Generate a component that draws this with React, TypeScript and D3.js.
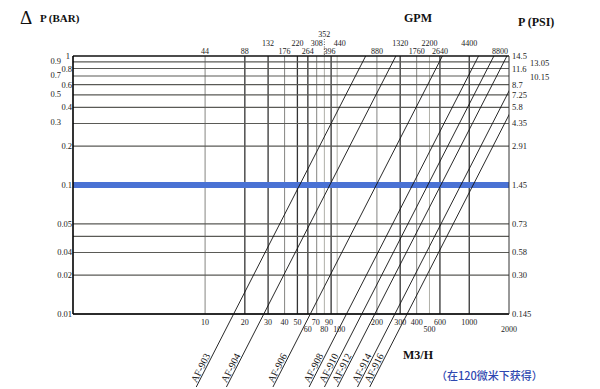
import { useEffect, useRef } from "react";
import * as d3 from "d3";

// flow grid (M3/H) and its GPM equivalents on top
const flowGrid = [10, 20, 30, 40, 50, 60, 70, 80, 90, 100, 200, 300, 400, 500, 600, 1000];
const flowLabelValues = [10, 20, 30, 40, 50, 60, 70, 80, 90, 100, 200, 300, 400, 500, 600, 1000, 2000];
const flowLabels = ["10", "20", "30", "40", "50", "60", "70", "80", "90", "100", "200", "300", "400", "500", "600", "1000", "2000"];
const gpmLabels = ["44", "88", "132", "176", "220", "264", "308", "352", "396", "440", "880", "1320", "1760", "2200", "2640", "4400", "8800"];

// pressure drop grid (BAR) and labels on both sides
const barGrid = [1, 0.9, 0.8, 0.7, 0.6, 0.5, 0.4, 0.3, 0.2, 0.1, 0.05, 0.04, 0.03, 0.02, 0.01];
const barLabelValues = [1, 0.9, 0.8, 0.7, 0.6, 0.5, 0.4, 0.3, 0.2, 0.1, 0.05, 0.03, 0.02, 0.01];
const barLabels = ["1", "0.9", "0.8", "0.7", "0.6", "0.5", "0.4", "0.3", "0.2", "0.1", "0.05", "0.04", "0.02", "0.01"];
const psiLabels = ["14.5", "13.05", "11.6", "10.15", "8.7", "7.25", "5.8", "4.35", "2.91", "1.45", "0.73", "0.58", "0.30", "0.145"];

// filter models: flow (M3/H) at 0.1 bar, drop grows with flow squared
const filterModels = ["AF-903", "AF-904", "AF-906", "AF-908", "AF-910", "AF-912", "AF-914", "AF-916"];
const flowAt01Bar = [52, 88, 198, 372, 486, 610, 865, 1070];

const highlightBar = 0.1;

export default function App() {
    const svgRef = useRef<SVGSVGElement>(null);

    useEffect(() => {
        const width = 600;
        const height = 389;
        const margin = { top: 56, right: 91, bottom: 75, left: 73 };
        const font = "'Liberation Serif', 'DejaVu Serif', serif";

        const svg = d3.select(svgRef.current)
            .attr("width", width)
            .attr("height", height)
            .style("background", "#ffffff")
            .style("position", "absolute")
            .style("left", "0px")
            .style("top", "0px");

        svg.selectAll("*").remove();

        const x = d3.scaleLog().domain([1, 2000]).range([margin.left, width - margin.right]);
        const y = d3.scaleLog().domain([0.01, 1]).range([height - margin.bottom, margin.top]);

        const left = margin.left;
        const right = width - margin.right;
        const top = margin.top;
        const bottom = height - margin.bottom;

        // vertical grid
        const dark = new Set([20, 30, 50, 60, 90, 300, 600, 1000]);
        const light = new Set([100, 500, 80]);
        svg.append("g")
            .selectAll("line")
            .data(flowGrid)
            .join("line")
            .attr("x1", d => x(d)).attr("x2", d => x(d))
            .attr("y1", top).attr("y2", bottom)
            .attr("stroke", d => dark.has(d) ? "#333" : light.has(d) ? "#b0b0a8" : "#858582")
            .attr("stroke-width", d => dark.has(d) ? 1.3 : 1);

        // horizontal grid
        svg.append("g")
            .selectAll("line")
            .data(barGrid)
            .join("line")
            .attr("x1", left).attr("x2", right)
            .attr("y1", d => y(d)).attr("y2", d => y(d))
            .attr("stroke", d => d === 1 ? "#111" : "#5a5a56")
            .attr("stroke-width", d => d === 1 ? 1.4 : 1.1);

        // highlighted 0.1 bar band
        svg.append("line")
            .attr("x1", left).attr("x2", right)
            .attr("y1", y(highlightBar)).attr("y2", y(highlightBar))
            .attr("stroke", "#4a72d4")
            .attr("stroke-width", 6);

        // axes frame
        svg.append("line").attr("x1", left).attr("x2", left).attr("y1", top).attr("y2", bottom)
            .attr("stroke", "#000").attr("stroke-width", 1.6);
        svg.append("line").attr("x1", left).attr("x2", right).attr("y1", bottom).attr("y2", bottom)
            .attr("stroke", "#000").attr("stroke-width", 1.6);
        svg.append("line").attr("x1", right).attr("x2", right).attr("y1", top).attr("y2", bottom)
            .attr("stroke", "#333").attr("stroke-width", 1);

        // filter lines
        svg.append("clipPath").attr("id", "clipCurves")
            .append("rect").attr("x", 0).attr("y", top).attr("width", right).attr("height", height - top);

        const dpLow = y.invert(height - 2);
        const flowAt = (q01: number, dp: number) => q01 * Math.sqrt(dp / 0.1);

        const curves = svg.append("g").attr("clip-path", "url(#clipCurves)");
        filterModels.forEach((m, i) => {
            const q01 = flowAt01Bar[i];
            const pts: [number, number][] = [dpLow, 1.2].map(dp => [x(flowAt(q01, dp)), y(dp)]);
            curves.append("path")
                .attr("d", d3.line()(pts))
                .attr("fill", "none")
                .attr("stroke", "#111")
                .attr("stroke-width", 0.9);
        });

        // model labels along lines
        filterModels.forEach((m, i) => {
            const q01 = flowAt01Bar[i];
            const dp0 = y.invert(height - 5);
            const dp1 = 0.1;
            const x0 = x(flowAt(q01, dp0)), y0 = y(dp0);
            const x1 = x(flowAt(q01, dp1)), y1 = y(dp1);
            const angle = Math.atan2(y1 - y0, x1 - x0) * 180 / Math.PI;
            svg.append("text")
                .attr("transform", `translate(${x0},${y0}) rotate(${angle})`)
                .attr("dy", -1.5)
                .attr("font-family", font)
                .attr("font-size", 10)
                .attr("fill", "#111")
                .text(m);
        });

        // bottom flow labels (M3/H)
        const lowRow = new Set([60, 80, 100, 500, 2000]);
        const nudge: Record<number, number> = { 90: -2, 100: 2, 70: -1 };
        svg.append("g")
            .selectAll("text")
            .data(flowLabelValues)
            .join("text")
            .attr("x", d => x(d) + (nudge[d] || 0))
            .attr("y", d => lowRow.has(d) ? bottom + 18 : bottom + 11)
            .attr("text-anchor", "middle")
            .attr("font-family", font)
            .attr("font-size", 8)
            .attr("fill", "#222")
            .text((_, i) => flowLabels[i]);

        // top GPM labels
        const upperRow = new Set([30, 50, 70, 100, 300, 500, 1000]);
        const topNudge: Record<number, number> = { 90: -1.5, 100: 2.5 };
        svg.append("g")
            .selectAll("text")
            .data(flowLabelValues)
            .join("text")
            .attr("x", d => d === 2000 ? x(d) - 1 : x(d) + (topNudge[d] || 0))
            .attr("y", d => d === 80 ? 37 : upperRow.has(d) ? 46 : 54)
            .attr("text-anchor", d => d === 2000 ? "end" : "middle")
            .attr("font-family", font)
            .attr("font-size", 8)
            .attr("fill", "#222")
            .text((_, i) => gpmLabels[i]);

        svg.append("line")
            .attr("x1", x(80)).attr("x2", x(80))
            .attr("y1", 39).attr("y2", top)
            .attr("stroke", "#333")
            .attr("stroke-width", 0.8)
            .attr("stroke-dasharray", "1,1.5");

        // left BAR labels
        const shiftedLeft = new Set([0.9, 0.7, 0.5, 0.3]);
        svg.append("g")
            .selectAll("text")
            .data(barLabelValues)
            .join("text")
            .attr("x", d => shiftedLeft.has(d) ? left - 12 : d === 1 ? left - 3 : left - 1)
            .attr("y", d => y(d) + (shiftedLeft.has(d) ? 2 : 3))
            .attr("text-anchor", "end")
            .attr("font-family", font)
            .attr("font-size", 8.5)
            .attr("fill", "#222")
            .text((_, i) => barLabels[i]);

        // right PSI labels
        const shiftedRight = new Set([0.9, 0.7]);
        svg.append("g")
            .selectAll("text")
            .data(barLabelValues)
            .join("text")
            .attr("x", d => shiftedRight.has(d) ? right + 21 : right + 3)
            .attr("y", d => y(d) + (shiftedRight.has(d) ? 4 : 3))
            .attr("font-family", font)
            .attr("font-size", 8.5)
            .attr("fill", "#222")
            .text((_, i) => psiLabels[i]);

        // titles
        svg.append("text").attr("x", 20).attr("y", 24)
            .attr("font-family", font).attr("font-size", 19).attr("fill", "#111").text("Δ");
        svg.append("text").attr("x", 40).attr("y", 22)
            .attr("font-family", font).attr("font-size", 11).attr("font-weight", "bold").attr("fill", "#111")
            .text("P (BAR)");
        svg.append("text").attr("x", 418).attr("y", 22).attr("text-anchor", "middle")
            .attr("font-family", font).attr("font-size", 12).attr("font-weight", "bold").attr("fill", "#111")
            .text("GPM");
        svg.append("text").attr("x", 518).attr("y", 26)
            .attr("font-family", font).attr("font-size", 12).attr("font-weight", "bold").attr("fill", "#111")
            .text("P (PSI)");
        svg.append("text").attr("x", 403).attr("y", 359)
            .attr("font-family", font).attr("font-size", 12).attr("font-weight", "bold").attr("fill", "#111")
            .text("M3/H");
        svg.append("text").attr("x", 436).attr("y", 380)
            .attr("font-family", "'Noto Sans CJK SC', sans-serif").attr("font-size", 11)
            .attr("font-weight", 500).attr("fill", "#2f48b0")
            .text("（在120微米下获得）");
    }, []);

    return <svg ref={svgRef}></svg>;
}
